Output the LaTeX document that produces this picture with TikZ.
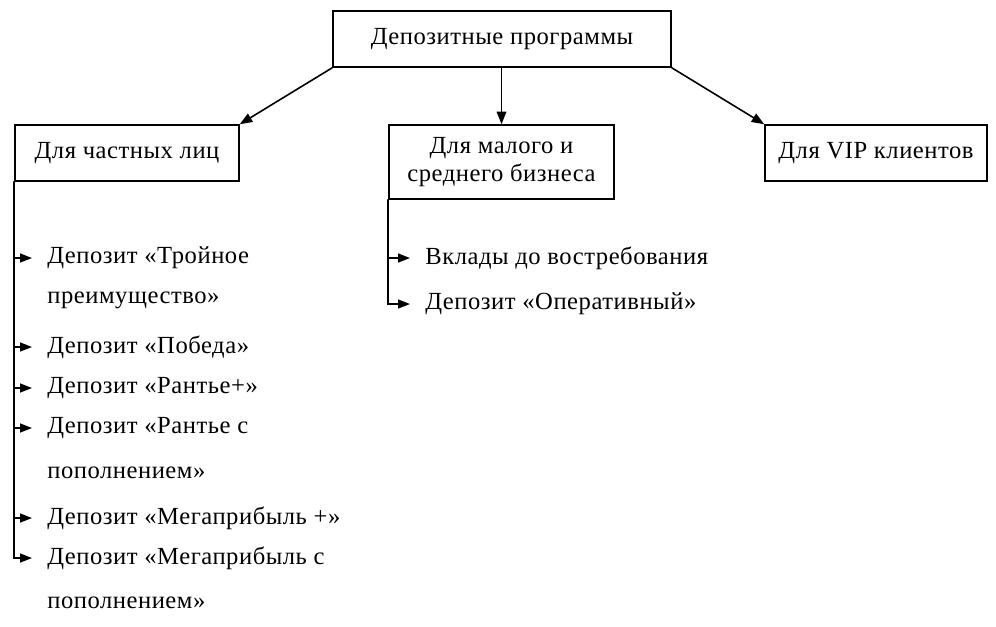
\documentclass[tikz,border=0pt]{standalone}
\usepackage{fontspec}
\setmainfont[LetterSpace=2.2]{Liberation Serif}
\usetikzlibrary{arrows.meta}

\begin{document}
\begin{tikzpicture}[
  line cap=round,
  line join=miter,
  box/.style={
    draw=black,
    line width=0.9pt,
    fill=white,
    align=center,
    font=\fontsize{14}{16}\selectfont,
    inner sep=3pt
  },
  item/.style={
    anchor=west,
    inner sep=0pt,
    font=\fontsize{14}{16}\selectfont
  },
  arrow/.style={
    -{Triangle[length=2.5mm,width=1.9mm]},
    line width=0.9pt,
    draw=black
  },
  branch/.style={
    -{Triangle[length=2.4mm,width=1.8mm]},
    line width=0.9pt,
    draw=black,
    shorten >=0.3cm
  }
]

\useasboundingbox (0,0) rectangle (19.92,-12.52);

% =========================================================
% Upper level: programmes and client groups
% =========================================================

\node[box, minimum width=6.76cm, minimum height=1.12cm] (prog) at (10.04,-0.78)
{Депозитные программы};

\node[box, minimum width=4.48cm, minimum height=1.12cm] (priv) at (2.54,-3.06)
{Для частных лиц};

\node[box, minimum width=4.50cm, minimum height=1.48cm] (smb) at (10.03,-3.24)
{Для малого и\\среднего бизнеса};

\node[box, minimum width=4.44cm, minimum height=1.12cm] (vip) at (17.52,-3.06)
{Для VIP клиентов};

\draw[arrow] (prog.south west) -- (priv.north east);
\draw[arrow] (prog.south -| smb.north) -- (smb.north);
\draw[arrow] (prog.south east) -- (vip.north west);


% =========================================================
% Deposits for private persons
% =========================================================

\node[item] (p1) at (0.94,-5.16) {Депозит «Тройное};
\node[item] (p1b) at (0.94,-6.00) {преимущество»};
\node[item] (p2) at (0.94,-6.94) {Депозит «Победа»};
\node[item] (p3) at (0.94,-7.76) {Депозит «Рантье+»};
\node[item] (p4) at (0.94,-8.56) {Депозит «Рантье с};
\node[item] (p4b) at (0.94,-9.46) {пополнением»};
\node[item] (p5) at (0.94,-10.36) {Депозит «Мегаприбыль +»};
\node[item] (p6) at (0.94,-11.16) {Депозит «Мегаприбыль с};
\node[item] (p6b) at (0.94,-12.06) {пополнением»};

\draw[branch] (priv.south west) |- (p6.west);
\foreach \n in {p1,p2,p3,p4,p5}
  \draw[branch] (priv.south west |- \n.west) -- (\n.west);


% ---------------- Small and medium business ----------------

\node[item] (s1) at (8.50,-5.16) {Вклады до востребования};
\node[item] (s2) at (8.50,-6.08) {Депозит «Оперативный»};

\draw[branch] (smb.south west) |- (s2.west);
\draw[branch] (smb.south west |- s1.west) -- (s1.west);

\end{tikzpicture}
\end{document}
